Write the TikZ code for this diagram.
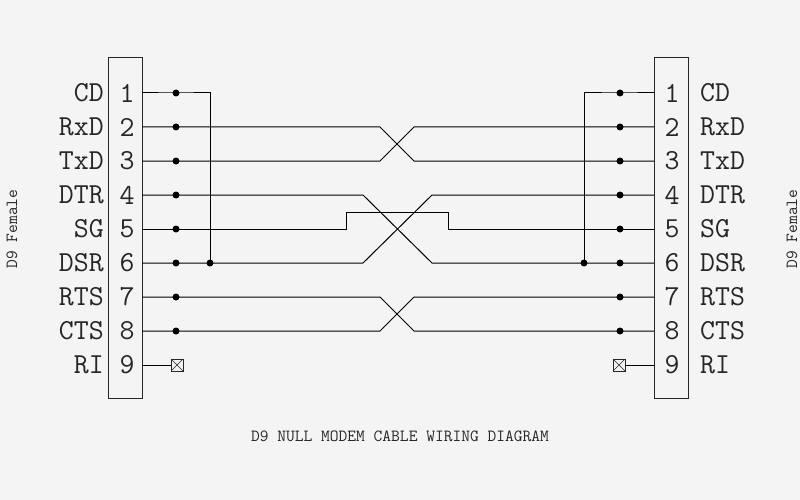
\documentclass[tikz,border=0pt]{standalone}
\usepackage{fontspec}
\begin{document}
\begin{tikzpicture}[x=1pt,y=-1pt,
  lbl/.style={font=\ttfamily\fontsize{29}{29}\selectfont\addfontfeature{LetterSpace=12},text=black!85,inner sep=0pt},
  small/.style={font=\ttfamily\fontsize{17}{17}\selectfont\addfontfeature{LetterSpace=32},text=black!85},
  wire/.style={draw=black,line width=1pt},
  dot/.style={circle,fill=black,inner sep=0pt,minimum size=7pt},
  nc/.style={draw=black!85,line width=0.7pt,inner sep=0pt,minimum size=12pt,path picture={\draw[black!85,line width=0.6pt] (path picture bounding box.south west)--(path picture bounding box.north east) (path picture bounding box.north west)--(path picture bounding box.south east);}}]
\useasboundingbox[fill={rgb,255:red,244;green,244;blue,244}] (0,0) rectangle (800,500);
\node[draw=black!85,line width=1pt,minimum width=34pt,minimum height=340pt,inner sep=0pt] (LB) at (125,228) {};
\node[draw=black!85,line width=1pt,minimum width=34pt,minimum height=340pt,inner sep=0pt] (RB) at (671,228) {};
\foreach \i/\n in {1/CD,2/RxD,3/TxD,4/DTR,5/SG,6/DSR,7/RTS,8/CTS,9/RI}{
  \pgfmathsetmacro{\yy}{93+34*(\i-1)}
  \node[lbl,anchor=east] (ln\i) at (104,\yy) {\n};
  \node[lbl] (lp\i) at (127,\yy) {\i};
  \node[lbl] (rp\i) at (672,\yy) {\i};
  \node[lbl,anchor=west] (rn\i) at (700,\yy) {\n};
  \coordinate (L\i) at (142,\yy);
  \coordinate (R\i) at (654,\yy);
}
\foreach \i in {1,...,8}{
  \pgfmathsetmacro{\yy}{93+34*(\i-1)}
  \node[dot] (ld\i) at (176,\yy) {};
  \node[dot] (rd\i) at (620,\yy) {};
}
\node[nc] (lx) at (177,365) {};
\node[nc] (rx) at (619,365) {};
\draw[wire] (L9) -- (lx.west);
\draw[wire] (R9) -- (rx.east);
\node[dot] (lj) at (210,263) {};
\node[dot] (rj) at (584,263) {};
\draw[wire] (L1) -- (ld1.center) -| (lj.center);
\draw[wire] (R1) -- (rd1.center) -| (rj.center);
\draw[wire] (L2) -- (380,127) -- (414,161) -- (R3);
\draw[wire] (L3) -- (380,161) -- (414,127) -- (R2);
\draw[wire] (L7) -- (380,297) -- (414,331) -- (R8);
\draw[wire] (L8) -- (380,331) -- (414,297) -- (R7);
\draw[wire] (L4) -- (363,195) -- (432,263) -- (R6);
\draw[wire] (L6) -- (363,263) -- (432,195) -- (R4);
\draw[wire] (L5) -- (346,229) -- (346,212) -- (448,212) -- (448,229) -- (R5);
\node[small,rotate=90] (sl) at (12,229) {D9 Female};
\node[small,rotate=90] (sr) at (792,229) {D9 Female};
\node[small] (title) at (400,436) {D9 NULL MODEM CABLE WIRING DIAGRAM};
\end{tikzpicture}
\end{document}
